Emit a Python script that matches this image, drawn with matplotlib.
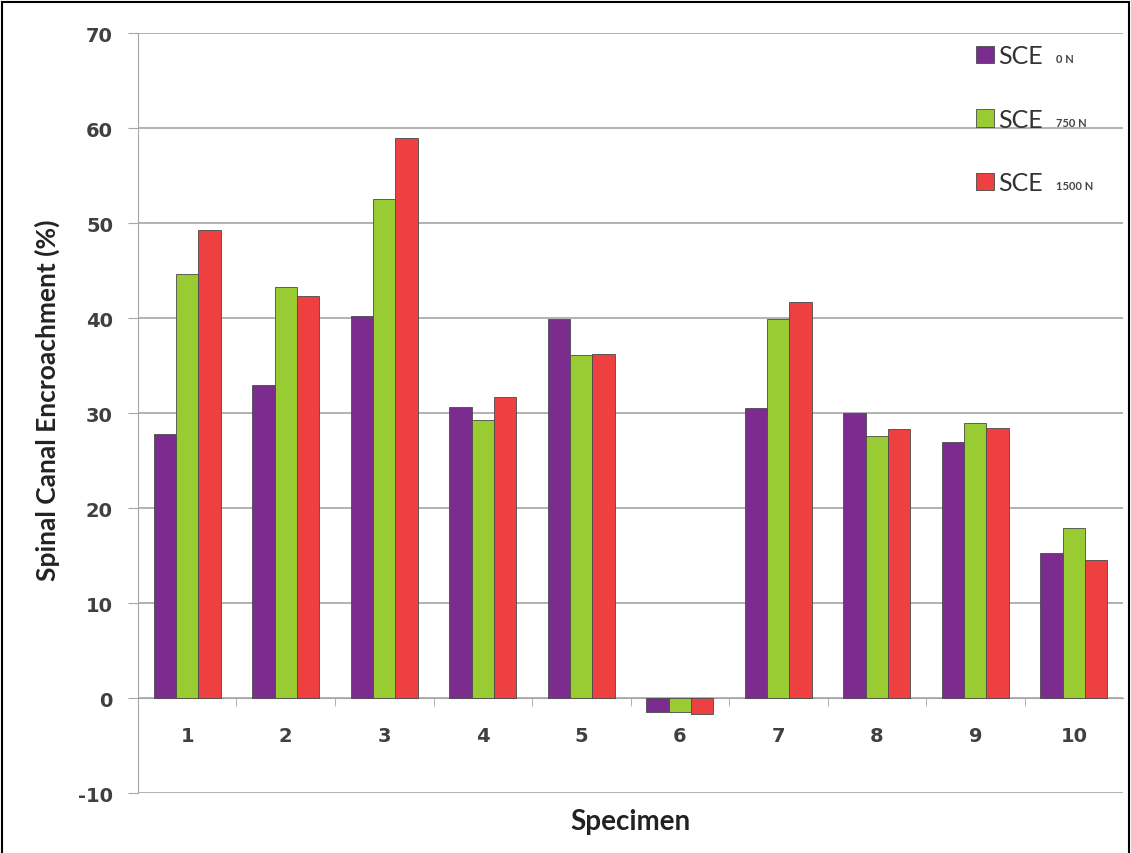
import matplotlib.pyplot as plt
import numpy as np
from matplotlib.patches import Rectangle

# Valores
specimens = ["1", "2", "3", "4", "5", "6", "7", "8", "9", "10"]
sce_0n = [27.8, 33.0, 40.2, 30.6, 39.9, -1.5, 30.5, 30.0, 27.0, 15.3]
sce_750n = [44.7, 43.3, 52.5, 29.3, 36.1, -1.5, 39.9, 27.6, 29.0, 17.9]
sce_1500n = [49.3, 42.3, 59.0, 31.7, 36.2, -1.7, 41.7, 28.3, 28.4, 14.6]
loads = ["0 N", "750 N", "1500 N"]
colors = ["#7B2C8E", "#99CC33", "#EE4040"]

plt.rcParams['font.family'] = ['Lato', 'DejaVu Sans']
plt.rcParams['axes.unicode_minus'] = False

fig = plt.figure(figsize=(11.31, 8.54), dpi=100)
ax = fig.add_axes([0.122, 0.070, 0.871, 0.890])

x = np.arange(len(specimens))
w = 0.227
series = [sce_0n, sce_750n, sce_1500n]
handles = []
for i, (vals, c) in enumerate(zip(series, colors)):
    b = ax.bar(x + (i - 1) * w, vals, width=w, color=c, edgecolor="#4a4a4a",
               linewidth=0.6, zorder=3)
    handles.append(b)

ax.set_xlim(-0.5, len(specimens) - 0.5)
ax.set_ylim(-10, 70)
ax.set_yticks(np.arange(-10, 71, 10))
ax.yaxis.grid(True, color="#a6a6a6", linewidth=1.2, zorder=0)

# eixo x na linha do zero, marcas entre categorias
ax.spines['bottom'].set_position(('data', 0))
ax.spines['bottom'].set_color("#a6a6a6")
ax.spines['left'].set_color("#a6a6a6")
ax.spines['top'].set_visible(False)
ax.spines['right'].set_visible(False)
ax.set_xticks(x)
ax.set_xticklabels(specimens)
ax.set_xticks(np.arange(0.5, len(specimens) - 0.5, 1), minor=True)
ax.tick_params(axis='x', which='major', length=0, pad=20)
ax.tick_params(axis='x', which='minor', length=6, color="#a6a6a6", direction='out')
ax.tick_params(axis='y', length=7, color="#a6a6a6", pad=11)
for lab in ax.get_xticklabels() + ax.get_yticklabels():
    lab.set_family('DejaVu Sans')
    lab.set_fontweight('bold')
    lab.set_fontsize(14)
    lab.set_color("#404040")

ax.set_ylabel("Spinal Canal Encroachment (%)", fontsize=19, fontweight='bold',
              color="#222222")
ax.yaxis.set_label_coords(-0.079, 0.518)
fig.text(0.557, 0.038, "Specimen", fontsize=20, fontweight='bold', color="#222222",
         ha='center', va='center')

leg = fig.legend(handles, ["SCE"] * 3, loc='upper left',
                 bbox_to_anchor=(976 / 1131, 1 - 45 / 854),
                 frameon=False, fontsize=18, labelspacing=1.62, handlelength=0.7,
                 handleheight=0.7, handletextpad=0.2, borderaxespad=0, borderpad=0)
fig.canvas.draw()
for t, lbl in zip(leg.get_texts(), loads):
    t.set_color("#333333")
    ax.annotate(lbl, xy=(1, 0.12), xycoords=t, xytext=(9, 0), textcoords='offset points',
                fontsize=8, fontweight='bold', color="#444444", va='bottom', ha='left',
                annotation_clip=False, zorder=10)

# moldura em volta da figura
fig.patches.append(Rectangle((0.002, -0.01), 0.996, 1.006, transform=fig.transFigure,
                             fill=False, edgecolor='black', linewidth=1.5))

plt.savefig("out.png", dpi=100)
